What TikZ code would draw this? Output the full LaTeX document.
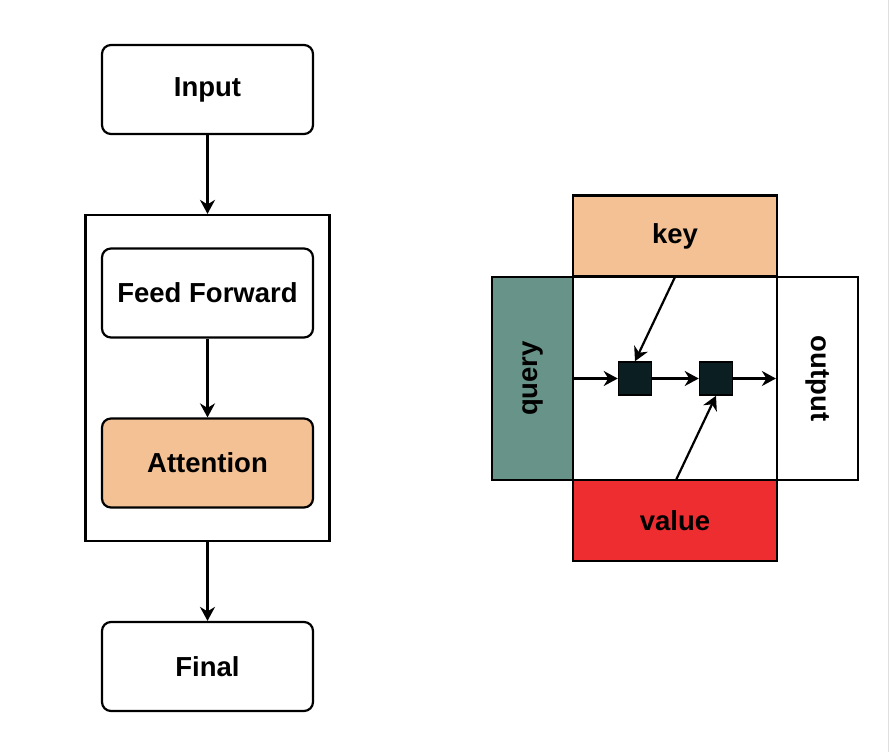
\documentclass[tikz,border=0pt]{standalone}
\usepackage{fontspec}
\setmainfont{Liberation Sans}
\usetikzlibrary{arrows.meta}
\definecolor{keyc}{HTML}{F4C195}
\definecolor{queryc}{HTML}{689389}
\definecolor{valuec}{HTML}{EE2D31}
\definecolor{sqc}{HTML}{0B1E21}
\begin{document}
\begin{tikzpicture}[x=1pt,y=-1pt,
  lbl/.style={font=\fontsize{27.5}{32}\selectfont\bfseries, text=black},
  rbox/.style={draw=black, line width=2.2pt, rounded corners=9pt, fill=white, minimum width=211pt, minimum height=89pt, inner sep=0pt, lbl},
  sbox/.style={draw=black, line width=2.2pt, minimum width=204pt, minimum height=81pt, inner sep=0pt, lbl},
  vbox/.style={draw=black, line width=2.2pt, minimum width=81pt, minimum height=203pt, inner sep=0pt, lbl},
  sq/.style={draw=black, line width=1.5pt, fill=sqc, minimum width=33pt, minimum height=33pt, inner sep=0pt},
  arr/.style={-{Stealth[length=14pt,width=15pt,inset=4.5pt]}, line width=2.2pt, draw=black},
]
\useasboundingbox (0,0) rectangle (889,752);
\fill[white] (0,0) rectangle (889,752);
\draw[gray!25, line width=1pt] (888,0) -- (888,752);

% left column
\node[draw=black, line width=2.2pt, minimum width=244pt, minimum height=326pt, inner sep=0pt] (outer) at (207.5,378) {};
\node[rbox] (input) at (207.5,89.5) {Input};
\node[rbox] (ff) at (207.5,293) {Feed Forward};
\node[rbox, fill=keyc] (att) at (207.5,463) {Attention};
\node[rbox] (final) at (207.5,666.5) {Final};
\draw[arr] (input) -- (outer.north);
\draw[arr] (ff) -- (att);
\draw[arr] (outer.south) -- (final);

% right block
\node[sbox, minimum height=203pt] (core) at (675,378.5) {};
\node[sbox, fill=keyc] (key) at (675,236) {key};
\node[sbox, fill=valuec] (value) at (675,520.5) {value};
\node[vbox, fill=queryc] (query) at (532.5,378.5) {\rotatebox{90}{query}};
\node[vbox] (output) at (817.5,378.5) {\rotatebox{-90}{output}};
\node[sq] (s1) at (635,378.5) {};
\node[sq] (s2) at (716,378.5) {};
\coordinate (keyb) at (675,277);
\coordinate (valt) at (676,480);
\draw[arr] (query.east) -- (s1.west);
\draw[arr] (s1.east) -- (s2.west);
\draw[arr] (s2.east) -- (output.west);
\draw[arr] (keyb) -- (s1.north);
\draw[arr] (valt) -- (s2.south);
\end{tikzpicture}
\end{document}
